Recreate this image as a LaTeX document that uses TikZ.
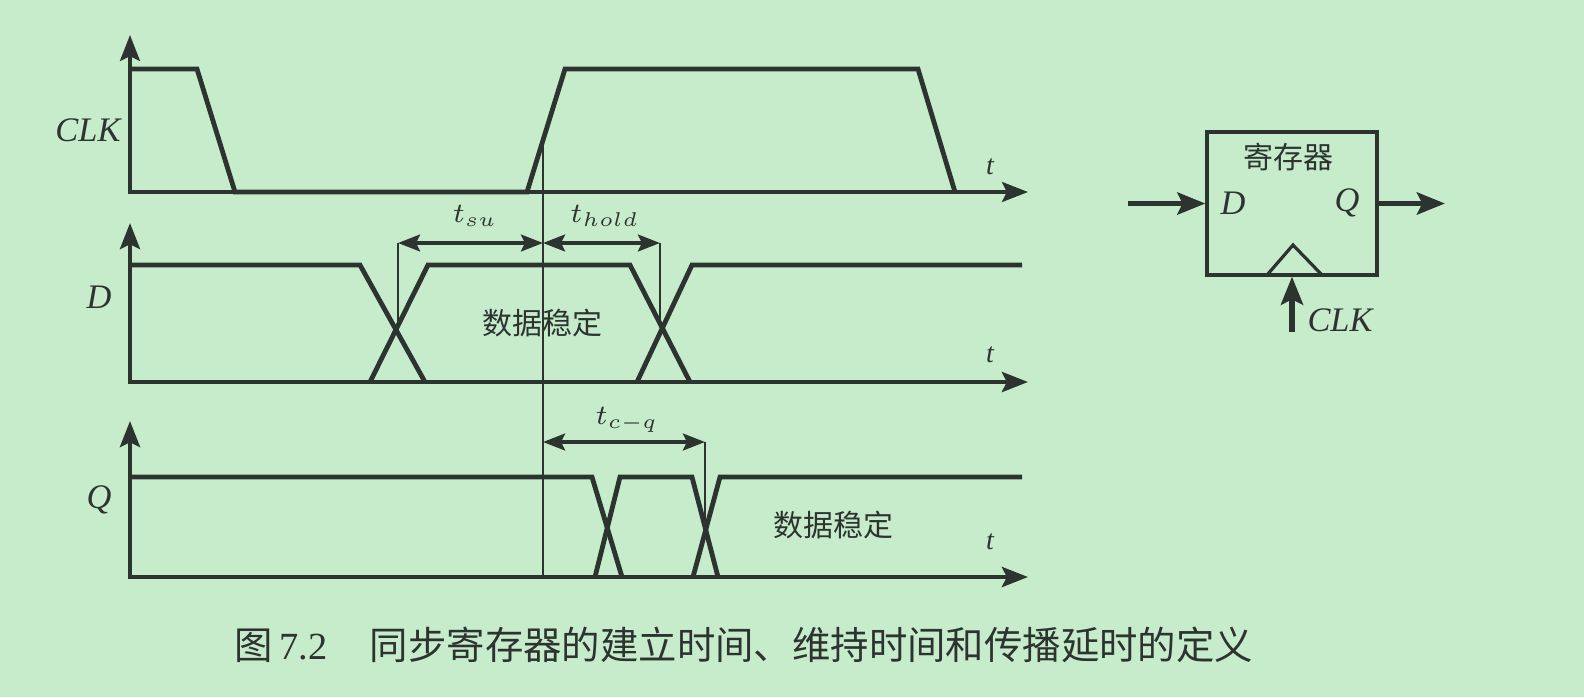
\documentclass[tikz,border=0pt]{standalone}
\usepackage{fontspec}
\setmainfont{Liberation Serif}
\newfontfamily\cjk{Noto Sans CJK SC}
\usetikzlibrary{arrows.meta}
\definecolor{bg}{RGB}{199,236,204}
\definecolor{ink}{RGB}{45,52,48}
\begin{document}
\begin{tikzpicture}[x=0.25pt,y=-0.25pt,
  axis/.style={draw=ink,line width=0.8pt,{Stealth[length=6.5pt,width=5pt,inset=1.2pt]}-{Stealth[length=6.5pt,width=5pt,inset=1.2pt]}},
  sig/.style={draw=ink,line width=1.2pt,line join=miter},
  thinln/.style={draw=ink,line width=0.35pt},
  dim/.style={draw=ink,line width=0.9pt,{Stealth[length=5.5pt,width=4.2pt,inset=1pt]}-{Stealth[length=5.5pt,width=4.2pt,inset=1pt]}},
  bigarrow/.style={draw=ink,line width=1.35pt,-{Stealth[length=7pt,width=5.5pt,inset=1.3pt]}},
  lab/.style={text=ink,font=\itshape\fontsize{8.6}{10}\selectfont,inner sep=0pt},
  tlab/.style={text=ink,font=\itshape\fontsize{7}{8}\selectfont,inner sep=0pt},
  mlab/.style={text=ink,font=\fontsize{7.5}{9}\selectfont,inner sep=0pt},
  cn/.style={text=ink,font=\cjk\fontsize{7.5}{9}\selectfont,inner sep=0pt},
  regbox/.style={draw=ink,line width=0.8pt,minimum width=42.5pt,minimum height=35.75pt,inner sep=0pt}
]
\fill[bg] (0,0) rectangle (1584,697);
\useasboundingbox (0,0) rectangle (1584,697);

% ---- CLK ----
\draw[axis] (130,35) -- (130,192) -- (1028,192);
\draw[sig] (130,69) -- (197,69) -- (235,192) -- (527,192) -- (565,69) -- (918,69) -- (955,192);
\node[lab] (clklab) at (88,130) {CLK};
\node[tlab] (t1) at (990,167) {t};

% ---- D ----
\draw[axis,line width=1.1pt] (130,223) -- (130,382) -- (1028,382);
\draw[sig] (130,265) -- (360,265) -- (425,382);
\draw[sig] (370,382) -- (428,265) -- (630,265) -- (690,382);
\draw[sig] (637,382) -- (692,265) -- (1022,265);
\node[lab] (dlab) at (99,297) {D};
\node[tlab] (t2) at (990,355) {t};

% ---- Q ----
\draw[axis,line width=1.1pt] (130,421) -- (130,577) -- (1028,577);
\draw[sig] (130,477) -- (592,477) -- (622,577);
\draw[sig] (595,577) -- (620,477) -- (692,477) -- (718,577);
\draw[sig] (693,577) -- (720,477) -- (1022,477);
\node[lab] (qlab) at (99,500) {Q};
\node[tlab] (t3) at (990,542) {t};

% ---- reference line and dimensions ----
\coordinate (edge) at (543,142);
\coordinate (edgebot) at (543,577);
\draw[thinln] (edge) -- (edgebot);
\coordinate (su1) at (398,243);
\coordinate (su2) at (543,243);
\coordinate (ho2) at (660,243);
\coordinate (dx1) at (398,326);
\coordinate (dx2) at (660,326);
\draw[thinln] (su1) -- (dx1);
\draw[thinln] (ho2) -- (dx2);
\draw[dim] (su1) -- (su2);
\draw[dim] (su2) -- (ho2);
\node[mlab] (tsu) at (475,216) {$t_{su}$};
\node[mlab] (thold) at (605,216) {$t_{hold}$};
\node[cn] (stab1) at (542,323) {数据稳定};

\coordinate (cq1) at (543,442);
\coordinate (cq2) at (705,442);
\coordinate (qx) at (705,527);
\draw[thinln] (cq2) -- (qx);
\draw[dim] (cq1) -- (cq2);
\node[mlab] (tcq) at (627,420) {$t_{c-q}$};
\node[cn] (stab2) at (833,525) {数据稳定};

% ---- register ----
\node[regbox] (reg) at (1292,203.5) {};
\draw[ink,line width=0.8pt] (1267,275) -- (1293,245) -- (1322,275);
\node[cn] (regname) at (1288,157) {寄存器};
\node[lab] (rd) at (1233,203) {D};
\node[lab] (rq) at (1347,203) {Q};
\coordinate (din) at (1128,203.5);
\coordinate (qout) at (1445,203.5);
\coordinate (clkin) at (1292,332);
\draw[bigarrow] (din) -- (reg.west);
\draw[bigarrow] (reg.east) -- (qout);
\draw[bigarrow] (clkin) -- (reg.south);
\node[lab] (rclk) at (1340,320) {CLK};

% ---- caption ----
\node[text=ink,inner sep=0pt,anchor=west,font=\fontsize{9.6}{12}\selectfont] (cap) at (234,645)
  {{\cjk 图}\,7.2\hspace{1.1em}{\cjk 同步寄存器的建立时间、维持时间和传播延时的定义}};
\end{tikzpicture}
\end{document}
